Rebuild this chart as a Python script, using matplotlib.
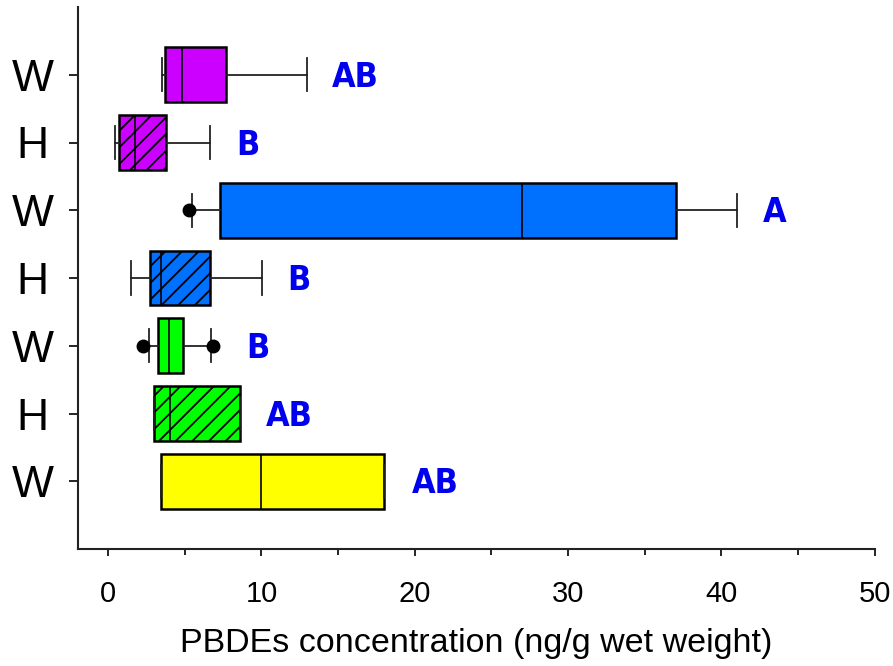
import matplotlib
matplotlib.use('Agg')
import matplotlib.pyplot as plt

# rows from top to bottom
labels = ['W', 'H', 'W', 'H', 'W', 'H', 'W']
positions = [7, 6, 5, 4, 3, 2, 1]
colours = ['#cc00ff', '#cc00ff', '#0070ff', '#0070ff', '#00ff00', '#00ff00', '#ffff00']
hatches = ['', '//', '', '//', '', '//', '']

whislo = [3.52, 0.47, 5.45, 1.49, 2.65, 2.96, 3.42]
q1 = [3.68, 0.73, 7.28, 2.70, 3.22, 2.96, 3.42]
med = [4.79, 1.72, 27.0, 3.42, 3.94, 4.03, 9.99]
q3 = [7.71, 3.79, 37.05, 6.63, 4.88, 8.61, 18.02]
whishi = [13.0, 6.63, 41.03, 10.03, 6.71, 8.61, 18.02]
fliers = [[], [], [5.27], [], [2.28, 6.86], [], []]

letters = ['AB', 'B', 'A', 'B', 'B', 'AB', 'AB']
letter_x = [14.6, 8.35, 42.7, 11.7, 8.98, 10.3, 19.8]

plt.rcParams['hatch.linewidth'] = 1.3
plt.rcParams['font.family'] = ['Liberation Sans', 'DejaVu Sans']

fig = plt.figure(figsize=(8.93, 6.66), dpi=100)
ax = fig.add_axes([77.5 / 893, 1 - 549 / 666, 797 / 893, 542 / 666])

stats = []
for i in range(len(labels)):
    stats.append(dict(whislo=whislo[i], q1=q1[i], med=med[i], q3=q3[i],
                      whishi=whishi[i], fliers=fliers[i]))

bp = ax.bxp(stats, positions=positions, widths=0.81, capwidths=0.49,
            orientation='horizontal', patch_artist=True, showfliers=True,
            boxprops=dict(linewidth=1.8, edgecolor='black'),
            medianprops=dict(color='black', linewidth=1.2),
            whiskerprops=dict(color='#222222', linewidth=1.3),
            capprops=dict(color='#222222', linewidth=1.3),
            flierprops=dict(marker='o', markerfacecolor='black',
                            markeredgecolor='black', markersize=9))

for box, c, h in zip(bp['boxes'], colours, hatches):
    box.set_facecolor(c)
    box.set_hatch(h)

for x, y, t in zip(letter_x, positions, letters):
    ax.annotate(t, (x, y), xytext=(0, -8.8), textcoords='offset points',
                color='#0000ee', fontsize=24.5, fontweight='bold',
                family='DejaVu Sans', fontstretch='condensed',
                ha='left', va='baseline')

ax.set_xlim(-2, 50)
ax.set_ylim(0, 8)
ax.set_xticks(range(0, 51, 10))
ax.set_xticks(range(5, 50, 10), minor=True)
ax.set_yticks(positions)
ax.set_yticklabels(labels, fontsize=32)
for lbl in ax.get_yticklabels():
    lbl.set_horizontalalignment('center')

ax.spines['top'].set_visible(False)
ax.spines['right'].set_visible(False)
ax.spines['left'].set_linewidth(1.5)
ax.spines['bottom'].set_linewidth(1.5)
ax.spines['left'].set_color('#222222')
ax.spines['bottom'].set_color('#222222')

ax.tick_params(axis='x', which='major', length=5, width=1.2, labelsize=21, pad=17)
ax.tick_params(axis='x', which='minor', length=4.5, width=1.2)
ax.tick_params(axis='y', length=6.3, width=1.2, pad=26)

ax.set_xlabel('PBDEs concentration (ng/g wet weight)', fontsize=24.5, labelpad=15)

plt.savefig('out.png')
